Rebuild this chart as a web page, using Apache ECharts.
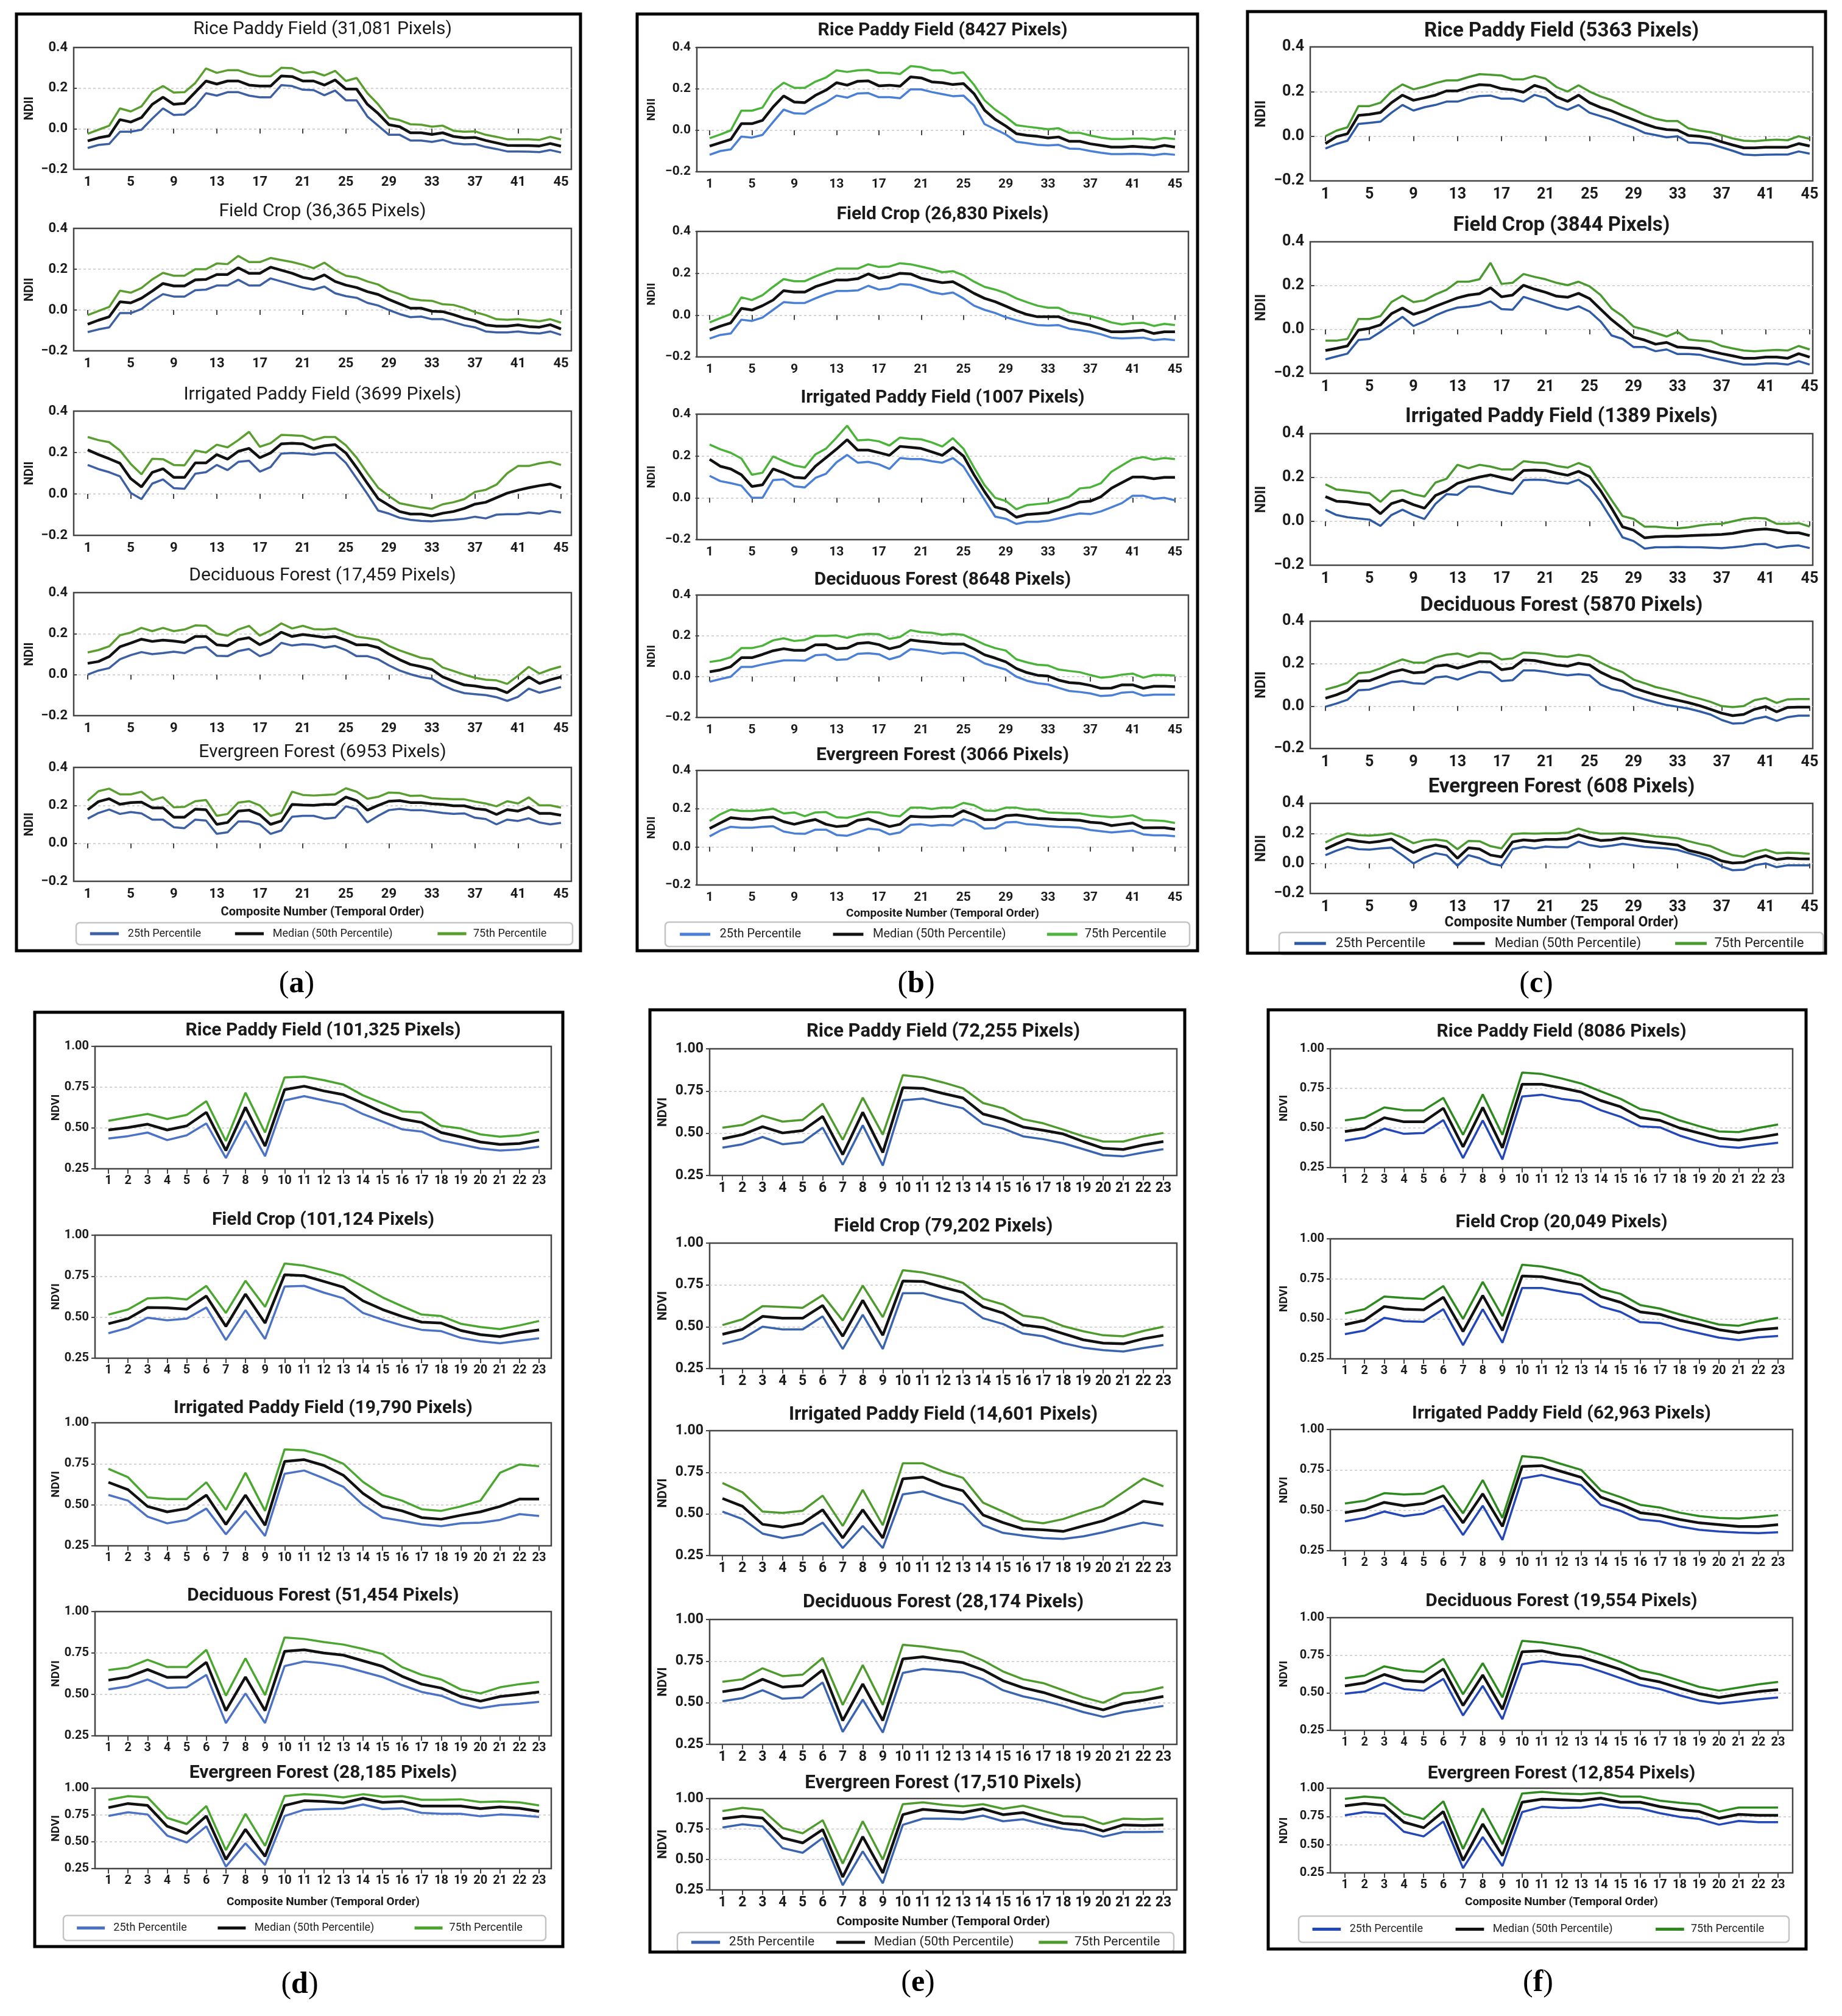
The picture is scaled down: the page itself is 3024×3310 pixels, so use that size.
<!DOCTYPE html>
<html>
<head>
<meta charset="utf-8">
<title>NDII / NDVI percentile profiles</title>
<script src="https://cdn.jsdelivr.net/npm/echarts@6/dist/echarts.min.js"></script>
<style>
html, body { margin: 0; padding: 0; background: #fff; }
#chart { width: 3024px; height: 3310px; }
</style>
</head>
<body>
<div id="chart"></div>
<script>
// tick labels and names
var ndiiTicks = [1, 5, 9, 13, 17, 21, 25, 29, 33, 37, 41, 45];
var ndviTicks = [1, 2, 3, 4, 5, 6, 7, 8, 9, 10, 11, 12, 13, 14, 15, 16, 17, 18, 19, 20, 21, 22, 23];
var seriesNames = ['25th Percentile', 'Median (50th Percentile)', '75th Percentile'];
var xName = 'Composite Number (Temporal Order)';

var titlesA = ['Rice Paddy Field (31,081 Pixels)', 'Field Crop (36,365 Pixels)', 'Irrigated Paddy Field (3699 Pixels)', 'Deciduous Forest (17,459 Pixels)', 'Evergreen Forest (6953 Pixels)'];
var titlesB = ['Rice Paddy Field (8427 Pixels)', 'Field Crop (26,830 Pixels)', 'Irrigated Paddy Field (1007 Pixels)', 'Deciduous Forest (8648 Pixels)', 'Evergreen Forest (3066 Pixels)'];
var titlesC = ['Rice Paddy Field (5363 Pixels)', 'Field Crop (3844 Pixels)', 'Irrigated Paddy Field (1389 Pixels)', 'Deciduous Forest (5870 Pixels)', 'Evergreen Forest (608 Pixels)'];
var titlesD = ['Rice Paddy Field (101,325 Pixels)', 'Field Crop (101,124 Pixels)', 'Irrigated Paddy Field (19,790 Pixels)', 'Deciduous Forest (51,454 Pixels)', 'Evergreen Forest (28,185 Pixels)'];
var titlesE = ['Rice Paddy Field (72,255 Pixels)', 'Field Crop (79,202 Pixels)', 'Irrigated Paddy Field (14,601 Pixels)', 'Deciduous Forest (28,174 Pixels)', 'Evergreen Forest (17,510 Pixels)'];
var titlesF = ['Rice Paddy Field (8086 Pixels)', 'Field Crop (20,049 Pixels)', 'Irrigated Paddy Field (62,963 Pixels)', 'Deciduous Forest (19,554 Pixels)', 'Evergreen Forest (12,854 Pixels)'];

// ---- (a) NDII ----
var aRice25 = [-0.095,-0.08,-0.075,-0.015,-0.015,-0.005,0.05,0.1,0.068,0.07,0.11,0.175,0.163,0.18,0.18,0.163,0.155,0.155,0.215,0.21,0.192,0.19,0.165,0.188,0.14,0.14,0.06,0.015,-0.03,-0.03,-0.058,-0.058,-0.065,-0.055,-0.072,-0.077,-0.076,-0.09,-0.1,-0.112,-0.112,-0.113,-0.115,-0.105,-0.117];
var aRice50 = [-0.06,-0.045,-0.035,0.045,0.033,0.055,0.12,0.155,0.12,0.125,0.18,0.235,0.22,0.235,0.235,0.215,0.21,0.21,0.26,0.257,0.235,0.235,0.215,0.24,0.195,0.195,0.12,0.075,0.02,0.01,-0.02,-0.02,-0.028,-0.02,-0.038,-0.045,-0.043,-0.058,-0.07,-0.082,-0.083,-0.083,-0.085,-0.073,-0.086];
var aRice75 = [-0.025,-0.005,0.015,0.1,0.085,0.11,0.18,0.21,0.178,0.18,0.225,0.297,0.275,0.288,0.288,0.27,0.258,0.258,0.3,0.298,0.275,0.28,0.262,0.285,0.235,0.25,0.175,0.12,0.053,0.042,0.022,0.02,0.01,0.015,-0.01,-0.015,-0.013,-0.03,-0.04,-0.052,-0.052,-0.052,-0.055,-0.04,-0.053];
var aField25 = [-0.108,-0.095,-0.085,-0.015,-0.015,0.005,0.045,0.078,0.066,0.066,0.097,0.1,0.12,0.12,0.148,0.12,0.12,0.155,0.14,0.125,0.11,0.1,0.115,0.082,0.068,0.06,0.035,0.022,0.0,-0.02,-0.035,-0.032,-0.045,-0.045,-0.06,-0.075,-0.085,-0.105,-0.11,-0.11,-0.105,-0.112,-0.115,-0.105,-0.122];
var aField50 = [-0.07,-0.05,-0.033,0.04,0.035,0.058,0.093,0.13,0.118,0.118,0.148,0.15,0.174,0.174,0.207,0.18,0.18,0.21,0.195,0.18,0.16,0.15,0.172,0.14,0.122,0.11,0.09,0.076,0.052,0.03,0.009,0.009,-0.006,-0.008,-0.023,-0.04,-0.052,-0.073,-0.079,-0.079,-0.073,-0.081,-0.084,-0.072,-0.093];
var aField75 = [-0.025,-0.005,0.015,0.095,0.085,0.108,0.15,0.182,0.168,0.168,0.2,0.2,0.228,0.225,0.265,0.235,0.235,0.255,0.245,0.235,0.222,0.205,0.232,0.195,0.168,0.16,0.14,0.125,0.095,0.078,0.055,0.048,0.045,0.028,0.025,0.01,-0.01,-0.025,-0.045,-0.048,-0.045,-0.05,-0.055,-0.045,-0.062];
var aIrr25 = [0.14,0.12,0.105,0.085,0.005,-0.025,0.05,0.07,0.028,0.025,0.098,0.105,0.14,0.115,0.155,0.16,0.108,0.13,0.195,0.198,0.195,0.19,0.198,0.198,0.15,0.075,0.0,-0.08,-0.095,-0.115,-0.125,-0.13,-0.132,-0.128,-0.125,-0.12,-0.11,-0.118,-0.1,-0.098,-0.098,-0.09,-0.095,-0.082,-0.09];
var aIrr50 = [0.213,0.19,0.17,0.148,0.074,0.034,0.104,0.122,0.08,0.08,0.15,0.15,0.19,0.168,0.206,0.22,0.175,0.198,0.242,0.245,0.242,0.22,0.233,0.238,0.198,0.127,0.051,-0.023,-0.055,-0.085,-0.097,-0.097,-0.106,-0.093,-0.085,-0.07,-0.049,-0.04,-0.018,0.004,0.018,0.03,0.04,0.048,0.03];
var aIrr75 = [0.275,0.26,0.25,0.21,0.145,0.095,0.17,0.168,0.14,0.138,0.21,0.2,0.238,0.225,0.26,0.3,0.228,0.245,0.285,0.283,0.28,0.26,0.275,0.275,0.235,0.175,0.1,0.03,-0.01,-0.045,-0.055,-0.065,-0.072,-0.05,-0.04,-0.025,0.01,0.02,0.045,0.1,0.135,0.135,0.148,0.155,0.14];
var aDec25 = [0.0,0.02,0.032,0.075,0.095,0.11,0.1,0.105,0.112,0.105,0.13,0.135,0.092,0.09,0.115,0.125,0.09,0.108,0.155,0.142,0.148,0.145,0.132,0.14,0.12,0.09,0.09,0.075,0.045,0.02,0.002,-0.012,-0.02,-0.052,-0.075,-0.09,-0.095,-0.1,-0.11,-0.128,-0.108,-0.068,-0.088,-0.075,-0.06];
var aDec50 = [0.055,0.064,0.088,0.136,0.154,0.173,0.162,0.168,0.164,0.157,0.186,0.186,0.145,0.141,0.171,0.18,0.146,0.171,0.207,0.186,0.196,0.189,0.182,0.186,0.168,0.145,0.145,0.132,0.1,0.073,0.05,0.039,0.025,-0.011,-0.032,-0.05,-0.055,-0.064,-0.068,-0.088,-0.05,-0.011,-0.043,-0.025,-0.011];
var aDec75 = [0.108,0.12,0.138,0.192,0.205,0.228,0.212,0.228,0.212,0.22,0.24,0.238,0.2,0.19,0.22,0.238,0.19,0.215,0.25,0.225,0.238,0.222,0.22,0.225,0.205,0.185,0.178,0.17,0.14,0.118,0.1,0.082,0.075,0.035,0.018,0.0,-0.015,-0.025,-0.028,-0.045,-0.005,0.038,0.005,0.025,0.04];
var aEver25 = [0.13,0.16,0.178,0.155,0.165,0.158,0.125,0.125,0.085,0.08,0.125,0.12,0.05,0.058,0.115,0.115,0.1,0.05,0.068,0.14,0.145,0.145,0.13,0.135,0.195,0.18,0.11,0.145,0.175,0.182,0.175,0.175,0.168,0.16,0.155,0.158,0.135,0.128,0.1,0.125,0.118,0.132,0.11,0.1,0.108];
var aEver50 = [0.177,0.22,0.235,0.206,0.215,0.217,0.187,0.187,0.138,0.138,0.18,0.177,0.1,0.11,0.17,0.175,0.15,0.1,0.118,0.205,0.202,0.2,0.205,0.205,0.244,0.225,0.175,0.2,0.222,0.225,0.215,0.215,0.208,0.205,0.198,0.198,0.183,0.177,0.152,0.178,0.17,0.19,0.158,0.158,0.148];
var aEver75 = [0.225,0.275,0.288,0.258,0.258,0.272,0.228,0.243,0.19,0.192,0.222,0.228,0.145,0.155,0.215,0.222,0.2,0.145,0.16,0.272,0.255,0.252,0.255,0.258,0.29,0.272,0.235,0.245,0.268,0.265,0.25,0.252,0.238,0.235,0.232,0.232,0.22,0.21,0.195,0.222,0.21,0.242,0.2,0.2,0.188];

// ---- (b) NDII ----
var bRice25 = [-0.118,-0.1,-0.092,-0.03,-0.035,-0.022,0.04,0.1,0.082,0.08,0.11,0.135,0.168,0.158,0.178,0.18,0.16,0.16,0.155,0.198,0.198,0.185,0.175,0.165,0.168,0.12,0.03,0.005,-0.02,-0.055,-0.062,-0.07,-0.073,-0.07,-0.088,-0.09,-0.1,-0.108,-0.115,-0.115,-0.113,-0.115,-0.12,-0.113,-0.118];
var bRice50 = [-0.076,-0.06,-0.044,0.032,0.032,0.048,0.113,0.166,0.137,0.134,0.169,0.194,0.23,0.218,0.237,0.239,0.215,0.218,0.213,0.258,0.253,0.234,0.23,0.221,0.226,0.177,0.097,0.053,0.021,-0.016,-0.024,-0.029,-0.037,-0.032,-0.053,-0.053,-0.065,-0.073,-0.081,-0.081,-0.077,-0.081,-0.084,-0.073,-0.081];
var bRice75 = [-0.038,-0.02,0.0,0.095,0.095,0.11,0.19,0.23,0.205,0.205,0.235,0.255,0.29,0.282,0.29,0.292,0.278,0.278,0.272,0.31,0.305,0.29,0.29,0.275,0.28,0.22,0.145,0.1,0.065,0.025,0.018,0.012,0.005,0.01,-0.012,-0.012,-0.025,-0.035,-0.042,-0.042,-0.04,-0.04,-0.045,-0.037,-0.042];
var bField25 = [-0.112,-0.095,-0.088,-0.022,-0.028,-0.012,0.025,0.062,0.058,0.058,0.08,0.1,0.115,0.115,0.118,0.14,0.122,0.128,0.148,0.145,0.13,0.11,0.1,0.108,0.08,0.045,0.025,0.01,-0.01,-0.025,-0.038,-0.048,-0.05,-0.048,-0.065,-0.072,-0.08,-0.092,-0.108,-0.112,-0.11,-0.108,-0.12,-0.115,-0.12];
var bField50 = [-0.072,-0.053,-0.037,0.032,0.024,0.045,0.072,0.117,0.11,0.11,0.136,0.152,0.168,0.168,0.174,0.197,0.176,0.184,0.2,0.197,0.176,0.165,0.155,0.16,0.133,0.104,0.08,0.064,0.043,0.021,0.003,-0.008,-0.008,-0.008,-0.027,-0.037,-0.048,-0.064,-0.08,-0.08,-0.077,-0.072,-0.088,-0.08,-0.08];
var bField75 = [-0.035,-0.015,0.005,0.085,0.072,0.095,0.135,0.172,0.162,0.162,0.185,0.205,0.222,0.222,0.222,0.243,0.23,0.232,0.248,0.243,0.232,0.22,0.205,0.21,0.19,0.16,0.135,0.122,0.105,0.08,0.062,0.045,0.035,0.035,0.012,0.005,-0.005,-0.018,-0.035,-0.045,-0.038,-0.037,-0.052,-0.042,-0.048];
var bIrr25 = [0.105,0.08,0.07,0.058,0.0,0.0,0.085,0.088,0.055,0.05,0.095,0.115,0.17,0.205,0.168,0.172,0.16,0.138,0.19,0.185,0.185,0.175,0.168,0.19,0.15,0.07,-0.01,-0.09,-0.1,-0.125,-0.115,-0.115,-0.11,-0.098,-0.085,-0.075,-0.078,-0.065,-0.045,-0.025,0.01,0.01,-0.005,0.0,-0.012];
var bIrr50 = [0.184,0.151,0.138,0.11,0.054,0.062,0.138,0.119,0.098,0.094,0.151,0.192,0.233,0.278,0.228,0.228,0.216,0.203,0.246,0.241,0.236,0.22,0.203,0.241,0.2,0.11,0.029,-0.044,-0.057,-0.093,-0.08,-0.076,-0.072,-0.057,-0.041,-0.02,-0.016,0.005,0.046,0.073,0.099,0.099,0.091,0.098,0.098];
var bIrr75 = [0.255,0.232,0.215,0.188,0.11,0.12,0.198,0.175,0.155,0.145,0.208,0.235,0.288,0.345,0.275,0.278,0.27,0.25,0.288,0.282,0.28,0.265,0.245,0.285,0.235,0.145,0.06,0.0,-0.015,-0.055,-0.035,-0.03,-0.025,-0.01,0.005,0.045,0.05,0.07,0.125,0.155,0.185,0.195,0.182,0.19,0.185];
var bDec25 = [-0.025,-0.012,0.0,0.048,0.048,0.06,0.07,0.08,0.08,0.078,0.105,0.108,0.082,0.085,0.112,0.115,0.11,0.085,0.1,0.135,0.13,0.122,0.113,0.118,0.115,0.095,0.065,0.05,0.035,0.0,-0.02,-0.032,-0.038,-0.055,-0.07,-0.075,-0.082,-0.095,-0.092,-0.078,-0.075,-0.093,-0.088,-0.088,-0.088];
var bDec50 = [0.024,0.033,0.049,0.093,0.093,0.109,0.127,0.137,0.129,0.129,0.156,0.157,0.137,0.14,0.163,0.167,0.157,0.136,0.149,0.18,0.173,0.169,0.163,0.16,0.16,0.136,0.107,0.091,0.073,0.04,0.02,0.007,0.003,-0.017,-0.029,-0.033,-0.043,-0.057,-0.056,-0.04,-0.04,-0.057,-0.047,-0.047,-0.049];
var bDec75 = [0.072,0.08,0.095,0.14,0.14,0.152,0.178,0.188,0.175,0.18,0.2,0.2,0.202,0.19,0.205,0.21,0.208,0.185,0.195,0.228,0.218,0.215,0.205,0.21,0.205,0.182,0.158,0.14,0.128,0.085,0.07,0.058,0.055,0.035,0.028,0.022,0.008,-0.005,0.0,0.01,0.015,-0.005,0.008,0.008,0.005];
var bEver25 = [0.055,0.085,0.105,0.1,0.1,0.105,0.108,0.08,0.07,0.068,0.09,0.09,0.062,0.058,0.075,0.095,0.09,0.065,0.075,0.115,0.118,0.11,0.115,0.112,0.145,0.13,0.095,0.098,0.128,0.13,0.118,0.115,0.108,0.105,0.103,0.1,0.088,0.082,0.075,0.08,0.085,0.065,0.06,0.06,0.055];
var bEver50 = [0.096,0.125,0.153,0.146,0.143,0.153,0.156,0.132,0.118,0.132,0.143,0.118,0.106,0.111,0.139,0.146,0.125,0.106,0.118,0.16,0.157,0.157,0.16,0.16,0.189,0.167,0.142,0.143,0.163,0.167,0.16,0.149,0.146,0.142,0.142,0.139,0.129,0.125,0.111,0.118,0.125,0.099,0.1,0.1,0.092];
var bEver75 = [0.135,0.17,0.195,0.188,0.188,0.192,0.2,0.175,0.18,0.16,0.18,0.182,0.155,0.152,0.165,0.182,0.18,0.165,0.16,0.205,0.205,0.198,0.205,0.205,0.23,0.218,0.19,0.188,0.205,0.205,0.195,0.195,0.18,0.178,0.175,0.175,0.165,0.16,0.155,0.158,0.165,0.14,0.138,0.135,0.125];

// ---- (c) NDII ----
var cRice25 = [-0.055,-0.035,-0.02,0.055,0.06,0.065,0.105,0.14,0.115,0.13,0.14,0.155,0.155,0.17,0.18,0.182,0.168,0.168,0.155,0.185,0.172,0.135,0.118,0.14,0.105,0.09,0.075,0.055,0.038,0.015,0.005,-0.005,0.0,-0.028,-0.03,-0.035,-0.05,-0.065,-0.082,-0.085,-0.083,-0.082,-0.082,-0.068,-0.078];
var cRice50 = [-0.033,-0.002,0.011,0.093,0.098,0.106,0.15,0.184,0.161,0.172,0.184,0.203,0.203,0.219,0.231,0.228,0.213,0.208,0.197,0.228,0.213,0.176,0.156,0.184,0.15,0.129,0.113,0.093,0.074,0.055,0.039,0.03,0.027,0.003,0.0,-0.009,-0.025,-0.039,-0.052,-0.052,-0.049,-0.049,-0.049,-0.033,-0.044];
var cRice75 = [0.0,0.025,0.04,0.135,0.135,0.15,0.2,0.232,0.21,0.222,0.238,0.25,0.25,0.265,0.278,0.275,0.272,0.255,0.255,0.27,0.258,0.22,0.2,0.228,0.2,0.178,0.162,0.138,0.118,0.095,0.078,0.068,0.068,0.035,0.025,0.018,0.005,-0.01,-0.02,-0.022,-0.018,-0.015,-0.018,0.0,-0.012];
var cField25 = [-0.136,-0.123,-0.11,-0.048,-0.043,-0.011,0.024,0.058,0.016,0.037,0.064,0.085,0.1,0.104,0.112,0.128,0.093,0.09,0.149,0.133,0.117,0.1,0.09,0.106,0.082,0.037,-0.027,-0.043,-0.08,-0.08,-0.099,-0.091,-0.112,-0.112,-0.115,-0.128,-0.139,-0.15,-0.16,-0.16,-0.155,-0.155,-0.16,-0.144,-0.16];
var cField50 = [-0.096,-0.086,-0.075,-0.003,0.005,0.021,0.072,0.098,0.069,0.085,0.106,0.125,0.144,0.157,0.163,0.19,0.149,0.157,0.202,0.184,0.17,0.152,0.147,0.165,0.141,0.093,0.045,0.005,-0.035,-0.048,-0.067,-0.059,-0.08,-0.083,-0.086,-0.099,-0.11,-0.12,-0.131,-0.131,-0.126,-0.126,-0.131,-0.11,-0.126];
var cField75 = [-0.051,-0.051,-0.043,0.048,0.048,0.061,0.125,0.154,0.125,0.133,0.16,0.181,0.218,0.218,0.229,0.304,0.208,0.213,0.253,0.24,0.229,0.213,0.202,0.218,0.197,0.157,0.096,0.061,0.013,0.0,-0.016,-0.032,-0.011,-0.046,-0.051,-0.054,-0.075,-0.086,-0.096,-0.099,-0.096,-0.093,-0.096,-0.075,-0.091];
var cIrr25 = [0.053,0.029,0.019,0.013,0.008,-0.021,0.029,0.053,0.029,0.011,0.08,0.124,0.121,0.158,0.158,0.145,0.134,0.125,0.188,0.19,0.188,0.178,0.172,0.19,0.155,0.09,0.01,-0.073,-0.09,-0.124,-0.118,-0.118,-0.117,-0.118,-0.118,-0.12,-0.122,-0.118,-0.113,-0.105,-0.103,-0.12,-0.113,-0.11,-0.122];
var cIrr50 = [0.113,0.092,0.089,0.081,0.076,0.035,0.081,0.097,0.076,0.06,0.118,0.14,0.173,0.189,0.202,0.212,0.2,0.188,0.232,0.234,0.232,0.22,0.21,0.228,0.205,0.14,0.06,-0.025,-0.04,-0.075,-0.07,-0.068,-0.068,-0.065,-0.063,-0.062,-0.06,-0.055,-0.045,-0.038,-0.035,-0.04,-0.052,-0.052,-0.065];
var cIrr75 = [0.169,0.145,0.14,0.134,0.129,0.089,0.137,0.142,0.124,0.113,0.177,0.194,0.258,0.242,0.258,0.25,0.237,0.237,0.274,0.269,0.266,0.253,0.245,0.266,0.247,0.173,0.097,0.024,0.011,-0.024,-0.024,-0.029,-0.032,-0.027,-0.019,-0.013,-0.011,0.0,0.011,0.016,0.013,-0.011,-0.011,-0.008,-0.024];
var cDec25 = [-0.003,0.012,0.03,0.075,0.078,0.095,0.112,0.118,0.108,0.105,0.135,0.14,0.125,0.145,0.162,0.158,0.118,0.122,0.168,0.168,0.162,0.152,0.145,0.15,0.145,0.102,0.08,0.07,0.048,0.032,0.018,0.005,-0.003,-0.012,-0.025,-0.04,-0.065,-0.082,-0.08,-0.06,-0.05,-0.07,-0.052,-0.045,-0.045];
var cDec50 = [0.037,0.053,0.074,0.118,0.12,0.139,0.16,0.172,0.157,0.16,0.188,0.194,0.179,0.194,0.21,0.209,0.172,0.179,0.218,0.215,0.204,0.194,0.188,0.202,0.194,0.16,0.135,0.118,0.086,0.069,0.053,0.04,0.028,0.016,0.002,-0.015,-0.033,-0.045,-0.039,-0.015,-0.002,-0.027,-0.006,-0.005,-0.005];
var cDec75 = [0.078,0.092,0.11,0.155,0.16,0.178,0.2,0.22,0.205,0.205,0.228,0.242,0.248,0.232,0.25,0.248,0.22,0.225,0.252,0.25,0.245,0.235,0.232,0.242,0.235,0.205,0.18,0.16,0.125,0.108,0.09,0.078,0.065,0.048,0.035,0.02,0.0,-0.005,0.0,0.028,0.038,0.015,0.032,0.033,0.033];
var cEver25 = [0.055,0.085,0.11,0.095,0.092,0.1,0.105,0.055,0.0,0.04,0.068,0.055,-0.015,0.055,0.035,0.0,-0.015,0.095,0.11,0.1,0.112,0.108,0.108,0.145,0.122,0.11,0.118,0.13,0.12,0.11,0.105,0.1,0.09,0.068,0.048,0.025,-0.02,-0.045,-0.042,-0.012,0.0,-0.025,-0.012,-0.012,-0.012];
var cEver50 = [0.096,0.13,0.16,0.148,0.139,0.148,0.162,0.113,0.073,0.104,0.122,0.108,0.035,0.104,0.096,0.056,0.043,0.143,0.157,0.151,0.16,0.16,0.165,0.191,0.17,0.153,0.157,0.17,0.16,0.148,0.139,0.13,0.122,0.087,0.07,0.049,0.017,0.003,0.007,0.031,0.052,0.026,0.035,0.031,0.03];
var cEver75 = [0.14,0.175,0.2,0.188,0.185,0.19,0.2,0.172,0.135,0.155,0.16,0.15,0.095,0.15,0.148,0.115,0.1,0.195,0.2,0.198,0.2,0.2,0.205,0.232,0.21,0.198,0.198,0.2,0.198,0.19,0.18,0.175,0.168,0.148,0.13,0.115,0.082,0.055,0.045,0.075,0.092,0.068,0.072,0.07,0.065];

// ---- (d) NDVI ----
var dRice25 = [0.436,0.45,0.472,0.426,0.455,0.528,0.316,0.544,0.327,0.669,0.695,0.669,0.644,0.585,0.54,0.492,0.478,0.424,0.399,0.374,0.362,0.368,0.385];
var dRice50 = [0.488,0.503,0.523,0.488,0.513,0.596,0.362,0.627,0.389,0.735,0.756,0.727,0.704,0.652,0.596,0.555,0.534,0.472,0.445,0.414,0.399,0.405,0.426];
var dRice75 = [0.544,0.565,0.586,0.555,0.58,0.664,0.42,0.716,0.472,0.81,0.814,0.793,0.766,0.7,0.652,0.602,0.594,0.513,0.497,0.461,0.447,0.455,0.478];
var dField25 = [0.402,0.435,0.497,0.481,0.491,0.559,0.361,0.543,0.367,0.687,0.691,0.65,0.615,0.526,0.485,0.45,0.423,0.415,0.374,0.353,0.341,0.357,0.372];
var dField50 = [0.46,0.491,0.559,0.557,0.549,0.629,0.444,0.641,0.464,0.759,0.753,0.718,0.683,0.6,0.547,0.505,0.47,0.464,0.419,0.394,0.382,0.405,0.423];
var dField75 = [0.516,0.547,0.615,0.619,0.608,0.691,0.526,0.722,0.563,0.827,0.814,0.786,0.753,0.687,0.621,0.567,0.516,0.507,0.46,0.44,0.427,0.45,0.477];
var dIrr25 = [0.56,0.525,0.428,0.387,0.408,0.477,0.32,0.463,0.31,0.689,0.709,0.662,0.61,0.5,0.422,0.402,0.381,0.37,0.387,0.391,0.408,0.443,0.432];
var dIrr50 = [0.637,0.592,0.49,0.457,0.477,0.559,0.38,0.559,0.375,0.764,0.775,0.74,0.68,0.57,0.49,0.463,0.422,0.412,0.436,0.457,0.49,0.535,0.535];
var dIrr75 = [0.719,0.668,0.545,0.535,0.535,0.637,0.469,0.695,0.463,0.838,0.832,0.801,0.75,0.64,0.56,0.525,0.473,0.463,0.49,0.525,0.695,0.746,0.735];
var dDec25 = [0.53,0.549,0.59,0.539,0.543,0.618,0.327,0.506,0.327,0.671,0.699,0.688,0.669,0.637,0.605,0.556,0.515,0.492,0.444,0.417,0.436,0.444,0.455];
var dDec50 = [0.586,0.605,0.65,0.603,0.605,0.694,0.402,0.605,0.402,0.76,0.769,0.75,0.737,0.703,0.669,0.609,0.562,0.538,0.487,0.459,0.487,0.5,0.515];
var dDec75 = [0.647,0.662,0.709,0.665,0.665,0.769,0.492,0.718,0.496,0.844,0.835,0.816,0.801,0.775,0.744,0.665,0.618,0.59,0.53,0.506,0.543,0.562,0.575];
var dEver25 = [0.741,0.776,0.755,0.558,0.494,0.645,0.268,0.486,0.283,0.741,0.799,0.805,0.81,0.848,0.805,0.813,0.77,0.761,0.761,0.738,0.755,0.747,0.732];
var dEver50 = [0.819,0.857,0.839,0.645,0.578,0.741,0.335,0.616,0.364,0.839,0.883,0.877,0.862,0.906,0.868,0.877,0.834,0.834,0.834,0.81,0.825,0.813,0.784];
var dEver75 = [0.892,0.926,0.915,0.723,0.665,0.834,0.422,0.761,0.462,0.926,0.944,0.935,0.915,0.944,0.921,0.926,0.892,0.892,0.897,0.871,0.877,0.868,0.839];

// ---- (e) NDVI ----
var eRice25 = [0.415,0.435,0.478,0.435,0.447,0.533,0.313,0.547,0.309,0.695,0.705,0.675,0.648,0.557,0.528,0.482,0.465,0.441,0.406,0.37,0.364,0.386,0.406];
var eRice50 = [0.467,0.492,0.539,0.502,0.516,0.6,0.374,0.624,0.386,0.77,0.766,0.736,0.709,0.614,0.583,0.537,0.518,0.496,0.451,0.411,0.404,0.431,0.451];
var eRice75 = [0.533,0.549,0.604,0.569,0.579,0.675,0.461,0.711,0.492,0.844,0.831,0.801,0.766,0.679,0.648,0.583,0.559,0.522,0.482,0.451,0.451,0.482,0.502];
var eField25 = [0.398,0.428,0.5,0.484,0.484,0.562,0.367,0.572,0.367,0.701,0.701,0.668,0.639,0.551,0.516,0.459,0.443,0.402,0.375,0.36,0.352,0.373,0.391];
var eField50 = [0.455,0.484,0.562,0.551,0.551,0.627,0.443,0.658,0.449,0.773,0.771,0.736,0.705,0.619,0.582,0.51,0.496,0.459,0.422,0.402,0.398,0.428,0.449];
var eField75 = [0.51,0.545,0.623,0.619,0.613,0.689,0.537,0.746,0.557,0.838,0.824,0.797,0.762,0.668,0.633,0.566,0.551,0.504,0.473,0.449,0.443,0.475,0.5];
var eIrr25 = [0.514,0.469,0.382,0.355,0.376,0.448,0.295,0.428,0.295,0.618,0.635,0.593,0.556,0.432,0.386,0.37,0.355,0.35,0.365,0.39,0.42,0.448,0.428];
var eIrr50 = [0.593,0.546,0.438,0.421,0.444,0.525,0.355,0.525,0.355,0.711,0.721,0.672,0.639,0.494,0.448,0.41,0.405,0.395,0.428,0.459,0.51,0.577,0.558];
var eIrr75 = [0.686,0.63,0.514,0.506,0.519,0.61,0.428,0.645,0.432,0.804,0.804,0.755,0.717,0.568,0.514,0.459,0.444,0.469,0.51,0.548,0.63,0.713,0.666];
var eDec25 = [0.509,0.528,0.575,0.524,0.532,0.622,0.325,0.519,0.321,0.679,0.703,0.694,0.682,0.641,0.575,0.538,0.513,0.481,0.444,0.415,0.444,0.462,0.481];
var eDec50 = [0.566,0.585,0.641,0.594,0.603,0.697,0.393,0.613,0.393,0.763,0.776,0.758,0.741,0.697,0.632,0.59,0.562,0.524,0.487,0.457,0.496,0.515,0.538];
var eDec75 = [0.626,0.641,0.707,0.66,0.669,0.769,0.487,0.726,0.487,0.848,0.837,0.82,0.805,0.754,0.688,0.641,0.618,0.575,0.532,0.5,0.556,0.566,0.594];
var eEver25 = [0.763,0.789,0.771,0.593,0.555,0.677,0.288,0.567,0.305,0.784,0.835,0.835,0.83,0.86,0.814,0.83,0.789,0.751,0.733,0.687,0.725,0.725,0.728];
var eEver50 = [0.835,0.855,0.84,0.677,0.636,0.746,0.356,0.687,0.389,0.868,0.911,0.898,0.885,0.916,0.868,0.885,0.835,0.796,0.784,0.733,0.784,0.779,0.784];
var eEver75 = [0.898,0.924,0.906,0.758,0.715,0.822,0.466,0.814,0.499,0.954,0.969,0.949,0.936,0.954,0.916,0.941,0.898,0.855,0.847,0.791,0.835,0.83,0.835];

// ---- (f) NDVI ----
var fRice25 = [0.42,0.44,0.496,0.463,0.468,0.55,0.31,0.548,0.301,0.699,0.71,0.684,0.668,0.612,0.571,0.511,0.504,0.452,0.414,0.385,0.375,0.392,0.407];
var fRice50 = [0.478,0.496,0.565,0.539,0.539,0.625,0.381,0.63,0.375,0.776,0.776,0.753,0.727,0.673,0.634,0.565,0.548,0.5,0.468,0.435,0.424,0.44,0.461];
var fRice75 = [0.548,0.565,0.63,0.612,0.612,0.69,0.457,0.712,0.457,0.85,0.841,0.813,0.781,0.731,0.684,0.619,0.597,0.548,0.511,0.478,0.474,0.5,0.522];
var fField25 = [0.404,0.427,0.506,0.485,0.481,0.56,0.335,0.56,0.35,0.693,0.693,0.671,0.652,0.577,0.543,0.479,0.474,0.438,0.41,0.382,0.367,0.384,0.393];
var fField50 = [0.464,0.491,0.577,0.56,0.556,0.635,0.421,0.646,0.427,0.768,0.763,0.738,0.714,0.639,0.603,0.543,0.528,0.491,0.464,0.432,0.414,0.432,0.442];
var fField75 = [0.534,0.56,0.639,0.631,0.624,0.705,0.5,0.731,0.517,0.838,0.827,0.802,0.768,0.688,0.656,0.586,0.564,0.528,0.496,0.464,0.457,0.485,0.506];
var fIrr25 = [0.432,0.453,0.492,0.464,0.479,0.528,0.347,0.528,0.316,0.697,0.718,0.687,0.655,0.534,0.496,0.443,0.432,0.4,0.379,0.369,0.362,0.358,0.364];
var fIrr50 = [0.485,0.506,0.549,0.528,0.542,0.591,0.422,0.602,0.4,0.771,0.776,0.74,0.704,0.581,0.538,0.485,0.47,0.443,0.422,0.411,0.4,0.4,0.411];
var fIrr75 = [0.542,0.559,0.606,0.598,0.602,0.651,0.481,0.687,0.453,0.835,0.824,0.786,0.75,0.623,0.581,0.534,0.517,0.485,0.464,0.453,0.449,0.458,0.47];
var fDec25 = [0.494,0.508,0.566,0.525,0.514,0.593,0.349,0.546,0.324,0.69,0.711,0.697,0.684,0.643,0.597,0.552,0.525,0.483,0.448,0.428,0.442,0.457,0.469];
var fDec50 = [0.546,0.566,0.622,0.581,0.572,0.659,0.415,0.618,0.39,0.773,0.779,0.753,0.738,0.697,0.655,0.597,0.572,0.531,0.494,0.469,0.49,0.508,0.521];
var fDec75 = [0.597,0.614,0.676,0.649,0.639,0.726,0.49,0.697,0.469,0.846,0.835,0.815,0.794,0.753,0.705,0.649,0.622,0.581,0.539,0.514,0.535,0.556,0.572];
var fEver25 = [0.76,0.788,0.774,0.614,0.573,0.705,0.291,0.567,0.311,0.788,0.835,0.824,0.829,0.857,0.829,0.821,0.779,0.746,0.727,0.677,0.71,0.699,0.699];
var fEver50 = [0.843,0.865,0.848,0.699,0.65,0.793,0.36,0.683,0.402,0.876,0.903,0.898,0.89,0.912,0.876,0.876,0.837,0.81,0.793,0.733,0.768,0.76,0.76];
var fEver75 = [0.906,0.926,0.912,0.774,0.727,0.884,0.462,0.821,0.506,0.953,0.967,0.953,0.948,0.959,0.926,0.926,0.89,0.87,0.857,0.793,0.829,0.829,0.829];

var NARROW = '"Liberation Sans Narrow", "Arial Narrow", Roboto, sans-serif';
var SERIF = '"Liberation Serif", "DejaVu Serif", serif';

// page layout of the six panels (pixel positions on the 3024 x 3310 page)
var panels = [
    {letter: 'a', kind: 'NDII', titles: titlesA,
     data: [[aRice25, aRice50, aRice75], [aField25, aField50, aField75], [aIrr25, aIrr50, aIrr75], [aDec25, aDec50, aDec75], [aEver25, aEver50, aEver75]],
     box: [27, 23, 953, 1561], left: 121, right: 938, xmin: -0.3, xmax: 45.96,
     plots: [[78, 278], [375, 576], [675, 879], [973, 1175], [1260, 1447]], tY: [51, 350, 651, 948, 1238],
     legend: [125, 1515, 940, 1551], xnameY: 1498, yGap: 62, titleFs: 30, titleW: 'normal', tickFs: 22, legFs: 18, nameFs: 20,
     blue: '#3d5fa3', green: '#5a9e2f', labelX: 487, labelY: 1616},
    {letter: 'b', kind: 'NDII', titles: titlesB,
     data: [[bRice25, bRice50, bRice75], [bField25, bField50, bField75], [bIrr25, bIrr50, bIrr75], [bDec25, bDec50, bDec75], [bEver25, bEver50, bEver75]],
     box: [1046, 23, 1966, 1561], left: 1144, right: 1951, xmin: -0.21, xmax: 46.27,
     plots: [[78, 282], [380, 586], [680, 886], [977, 1178], [1265, 1453]], tY: [53, 355, 656, 955, 1243],
     legend: [1092, 1514, 1953, 1554], xnameY: 1500, yGap: 64, titleFs: 30, titleW: 'bold', tickFs: 21, legFs: 20, nameFs: 19,
     blue: '#4a7fd6', green: '#4cb33a', labelX: 1504, labelY: 1616},
    {letter: 'c', kind: 'NDII', titles: titlesC,
     data: [[cRice25, cRice50, cRice75], [cField25, cField50, cField75], [cIrr25, cIrr50, cIrr75], [cDec25, cDec50, cDec75], [cEver25, cEver50, cEver75]],
     box: [2048, 19, 2997, 1565], left: 2151, right: 2976, xmin: -0.38, xmax: 45.28,
     plots: [[77, 297], [397, 613], [712, 928], [1020, 1229], [1319, 1467]], tY: [55, 374, 688, 998, 1296],
     legend: [2100, 1531, 2993, 1567], xnameY: 1515, yGap: 68, titleFs: 33, titleW: 'bold', tickFs: 25, legFs: 22, nameFs: 23,
     blue: '#2e5aa6', green: '#4a9a30', labelX: 2522, labelY: 1616},
    {letter: 'd', kind: 'NDVI', titles: titlesD,
     data: [[dRice25, dRice50, dRice75], [dField25, dField50, dField75], [dIrr25, dIrr50, dIrr75], [dDec25, dDec50, dDec75], [dEver25, dEver50, dEver75]],
     box: [57, 1662, 924, 3196], left: 156, right: 905, xmin: 0.315, xmax: 23.62,
     plots: [[1718, 1919], [2028, 2230], [2336, 2538], [2646, 2850], [2936, 3068]], tY: [1695, 2006, 2315, 2623, 2914],
     legend: [104, 3145, 896, 3186], xnameY: 3123, yGap: 52, titleFs: 30, titleW: 'bold', tickFs: 20, legFs: 18, nameFs: 19,
     blue: '#4b72c4', green: '#4aa62e', labelX: 492, labelY: 3259},
    {letter: 'e', kind: 'NDVI', titles: titlesE,
     data: [[eRice25, eRice50, eRice75], [eField25, eField50, eField75], [eIrr25, eIrr50, eIrr75], [eDec25, eDec50, eDec75], [eEver25, eEver50, eEver75]],
     box: [1067, 1658, 1945, 3205], left: 1165, right: 1932, xmin: 0.36, xmax: 23.67,
     plots: [[1722, 1930], [2041, 2247], [2349, 2554], [2659, 2864], [2953, 3103]], tY: [1697, 2017, 2326, 2634, 2931],
     legend: [1112, 3173, 1927, 3205], xnameY: 3156, yGap: 66, titleFs: 31, titleW: 'bold', tickFs: 23, legFs: 21, nameFs: 21,
     blue: '#3a64b0', green: '#4e9a2c', labelX: 1507, labelY: 3256},
    {letter: 'f', kind: 'NDVI', titles: titlesF,
     data: [[fRice25, fRice50, fRice75], [fField25, fField50, fField75], [fIrr25, fIrr50, fIrr75], [fDec25, fDec50, fDec75], [fEver25, fEver50, fEver75]],
     box: [2082, 1658, 2965, 3200], left: 2184, right: 2943, xmin: 0.26, xmax: 23.74,
     plots: [[1722, 1917], [2034, 2231], [2347, 2546], [2656, 2841], [2936, 3075]], tY: [1697, 2010, 2324, 2632, 2915],
     legend: [2132, 3146, 2937, 3189], xnameY: 3123, yGap: 66, titleFs: 30, titleW: 'bold', tickFs: 20, legFs: 18, nameFs: 19,
     blue: '#2447b8', green: '#2e8a1f', labelX: 2525, labelY: 3256}
];

var grids = [], xAxes = [], yAxes = [], series = [], titles = [], graphics = [];

panels.forEach(function (p) {
    var ndii = p.kind === 'NDII';
    var ticks = ndii ? ndiiTicks : ndviTicks;
    var colors = [p.blue, '#111111', p.green];
    var widths = [3.5, 4.5, 3.5];
    var textStyle = {fontFamily: NARROW, fontWeight: 'bold', color: '#1a1a1a'};

    for (var k = 0; k < 5; k++) {
        var g = grids.length;
        var top = p.plots[k][0];
        grids.push({
            left: p.left, top: top, width: p.right - p.left, height: p.plots[k][1] - top,
            show: true, borderColor: '#444', borderWidth: 2.5, backgroundColor: '#fff'
        });
        xAxes.push({
            gridIndex: g, type: 'value', min: p.xmin, max: p.xmax,
            axisLine: {show: false}, splitLine: {show: false},
            axisTick: {show: true, customValues: ticks, length: 8, lineStyle: {color: '#444', width: 2}},
            axisLabel: Object.assign({customValues: ticks, fontSize: p.tickFs, margin: 10}, textStyle),
            name: k === 4 ? xName : '', nameLocation: 'middle',
            nameGap: p.xnameY - p.plots[4][1] - p.nameFs / 2,
            nameTextStyle: Object.assign({fontSize: p.nameFs}, textStyle)
        });
        yAxes.push({
            gridIndex: g, type: 'value',
            min: ndii ? -0.2 : 0.25, max: ndii ? 0.4 : 1, interval: ndii ? 0.2 : 0.25,
            axisLine: {show: false},
            axisTick: {show: true, length: 6, lineStyle: {color: '#444', width: 2}},
            axisLabel: Object.assign({
                fontSize: p.tickFs, margin: 10,
                formatter: function (v) {
                    if (Math.abs(v) < 1e-9) v = 0;
                    return (ndii ? v.toFixed(1) : v.toFixed(2)).replace('-', '\u2212');
                }
            }, textStyle),
            // only the inner grid lines; the frame covers the ends
            splitLine: {show: true, showMinLine: false, showMaxLine: false,
                lineStyle: {color: '#c8c8c8', width: 1.5, type: [4, 4]}},
            name: p.kind, nameLocation: 'middle', nameRotate: 90, nameGap: p.yGap,
            nameTextStyle: Object.assign({fontSize: p.nameFs}, textStyle)
        });
        p.data[k].forEach(function (arr, j) {
            series.push({
                name: seriesNames[j], type: 'line', xAxisIndex: g, yAxisIndex: g,
                data: arr.map(function (v, i) { return [i + 1, v]; }),
                showSymbol: false, silent: true, z: j === 1 ? 4 : 3,
                lineStyle: {color: colors[j], width: widths[j]},
                itemStyle: {color: colors[j]}
            });
        });
        titles.push({
            text: p.titles[k], left: (p.left + p.right) / 2, top: p.tY[k] - p.titleFs * 0.6,
            textAlign: 'center', padding: 0,
            textStyle: {fontFamily: NARROW, fontSize: p.titleFs, fontWeight: p.titleW, color: '#1a1a1a'}
        });
    }

    // legend box with three entries
    var L = p.legend, w = L[2] - L[0], cy = (L[1] + L[3]) / 2;
    graphics.push({type: 'rect', z: 50, shape: {x: L[0], y: L[1], width: w, height: L[3] - L[1], r: 6},
        style: {fill: '#fff', stroke: '#c4c4c4', lineWidth: 2.5}});
    var lineAt = [[0.028, 0.086], [0.32, 0.378], [0.728, 0.786]];
    var textAt = [0.104, 0.396, 0.8];
    for (var j = 0; j < 3; j++) {
        graphics.push({type: 'line', z: 51,
            shape: {x1: L[0] + lineAt[j][0] * w, y1: cy, x2: L[0] + lineAt[j][1] * w, y2: cy},
            style: {stroke: colors[j], lineWidth: 5}});
        graphics.push({type: 'text', z: 51, x: L[0] + textAt[j] * w, y: cy,
            style: {text: seriesNames[j], fontSize: p.legFs, fontFamily: NARROW, fontWeight: 'normal',
                fill: '#222', align: 'left', verticalAlign: 'middle'}});
    }

    // panel frame
    graphics.push({type: 'rect', z: 100,
        shape: {x: p.box[0], y: p.box[1], width: p.box[2] - p.box[0], height: p.box[3] - p.box[1]},
        style: {fill: 'none', stroke: '#000', lineWidth: 5}});

    // panel letter "(a)" etc.
    graphics.push({type: 'text', z: 100, x: p.labelX, y: p.labelY,
        style: {text: '{p|(}{b|' + p.letter + '}{p|)}', align: 'center', verticalAlign: 'middle',
            rich: {
                p: {fontFamily: SERIF, fontSize: 50, fill: '#000'},
                b: {fontFamily: SERIF, fontSize: 50, fontWeight: 'bold', fill: '#000'}
            }}});
});

var chart = echarts.init(document.getElementById('chart'), null, {renderer: 'canvas'});
chart.setOption({
    backgroundColor: '#fff',
    animation: false,
    title: titles,
    grid: grids,
    xAxis: xAxes,
    yAxis: yAxes,
    series: series,
    graphic: graphics
});
</script>
</body>
</html>
